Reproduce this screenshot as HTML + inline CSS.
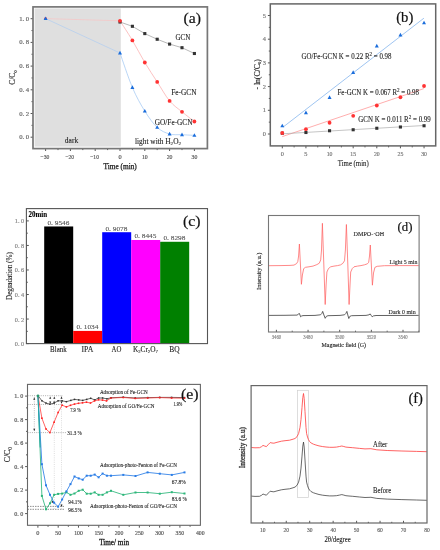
<!DOCTYPE html><html><head><meta charset="utf-8"><style>html,body{margin:0;padding:0;background:#fff;}svg{display:block;filter:blur(0.2px);}text{font-family:"Liberation Serif",serif;}</style></head><body>
<svg width="440" height="550" viewBox="0 0 440 550">
<rect width="440" height="550" fill="#fff"/>
<rect x="34.6" y="8.4" width="86.2" height="138.2" fill="#dfdfdf" stroke="none" stroke-width="1" />
<line x1="45.6" y1="148.6" x2="45.6" y2="151" stroke="#555" stroke-width="1" />
<line x1="58" y1="148.6" x2="58" y2="150.1" stroke="#555" stroke-width="1" />
<line x1="70.4" y1="148.6" x2="70.4" y2="151" stroke="#555" stroke-width="1" />
<line x1="82.8" y1="148.6" x2="82.8" y2="150.1" stroke="#555" stroke-width="1" />
<line x1="95.2" y1="148.6" x2="95.2" y2="151" stroke="#555" stroke-width="1" />
<line x1="107.6" y1="148.6" x2="107.6" y2="150.1" stroke="#555" stroke-width="1" />
<line x1="120" y1="148.6" x2="120" y2="151" stroke="#555" stroke-width="1" />
<line x1="132.4" y1="148.6" x2="132.4" y2="150.1" stroke="#555" stroke-width="1" />
<line x1="144.8" y1="148.6" x2="144.8" y2="151" stroke="#555" stroke-width="1" />
<line x1="157.2" y1="148.6" x2="157.2" y2="150.1" stroke="#555" stroke-width="1" />
<line x1="169.6" y1="148.6" x2="169.6" y2="151" stroke="#555" stroke-width="1" />
<line x1="182" y1="148.6" x2="182" y2="150.1" stroke="#555" stroke-width="1" />
<line x1="194.4" y1="148.6" x2="194.4" y2="151" stroke="#555" stroke-width="1" />
<line x1="33" y1="137.2" x2="30.6" y2="137.2" stroke="#555" stroke-width="1" />
<line x1="33" y1="125.35" x2="31.5" y2="125.35" stroke="#555" stroke-width="1" />
<line x1="33" y1="113.5" x2="30.6" y2="113.5" stroke="#555" stroke-width="1" />
<line x1="33" y1="101.65" x2="31.5" y2="101.65" stroke="#555" stroke-width="1" />
<line x1="33" y1="89.8" x2="30.6" y2="89.8" stroke="#555" stroke-width="1" />
<line x1="33" y1="77.95" x2="31.5" y2="77.95" stroke="#555" stroke-width="1" />
<line x1="33" y1="66.1" x2="30.6" y2="66.1" stroke="#555" stroke-width="1" />
<line x1="33" y1="54.25" x2="31.5" y2="54.25" stroke="#555" stroke-width="1" />
<line x1="33" y1="42.4" x2="30.6" y2="42.4" stroke="#555" stroke-width="1" />
<line x1="33" y1="30.55" x2="31.5" y2="30.55" stroke="#555" stroke-width="1" />
<line x1="33" y1="18.7" x2="30.6" y2="18.7" stroke="#555" stroke-width="1" />
<text x="45" y="158.7" font-size="6.3" fill="#555" text-anchor="middle" textLength="8.8" lengthAdjust="spacingAndGlyphs" stroke="#555" stroke-width="0.18">&#8722;30</text>
<text x="69.8" y="158.7" font-size="6.3" fill="#555" text-anchor="middle" textLength="8.8" lengthAdjust="spacingAndGlyphs" stroke="#555" stroke-width="0.18">&#8722;20</text>
<text x="94.6" y="158.7" font-size="6.3" fill="#555" text-anchor="middle" textLength="8.8" lengthAdjust="spacingAndGlyphs" stroke="#555" stroke-width="0.18">&#8722;10</text>
<text x="120" y="158.7" font-size="6.3" fill="#555" text-anchor="middle" stroke="#555" stroke-width="0.18">0</text>
<text x="144.8" y="158.7" font-size="6.3" fill="#555" text-anchor="middle" textLength="5.8" lengthAdjust="spacingAndGlyphs" stroke="#555" stroke-width="0.18">10</text>
<text x="169.6" y="158.7" font-size="6.3" fill="#555" text-anchor="middle" textLength="5.8" lengthAdjust="spacingAndGlyphs" stroke="#555" stroke-width="0.18">20</text>
<text x="194.4" y="158.7" font-size="6.3" fill="#555" text-anchor="middle" textLength="5.8" lengthAdjust="spacingAndGlyphs" stroke="#555" stroke-width="0.18">30</text>
<text x="29.2" y="139.2" font-size="6.6" fill="#666" text-anchor="end" textLength="10" lengthAdjust="spacingAndGlyphs" stroke="#666" stroke-width="0.18">0. 0</text>
<text x="29.2" y="115.5" font-size="6.6" fill="#666" text-anchor="end" textLength="10" lengthAdjust="spacingAndGlyphs" stroke="#666" stroke-width="0.18">0. 2</text>
<text x="29.2" y="91.8" font-size="6.6" fill="#666" text-anchor="end" textLength="10" lengthAdjust="spacingAndGlyphs" stroke="#666" stroke-width="0.18">0. 4</text>
<text x="29.2" y="68.1" font-size="6.6" fill="#666" text-anchor="end" textLength="10" lengthAdjust="spacingAndGlyphs" stroke="#666" stroke-width="0.18">0. 6</text>
<text x="29.2" y="44.4" font-size="6.6" fill="#666" text-anchor="end" textLength="10" lengthAdjust="spacingAndGlyphs" stroke="#666" stroke-width="0.18">0. 8</text>
<text x="29.2" y="20.7" font-size="6.6" fill="#666" text-anchor="end" textLength="10" lengthAdjust="spacingAndGlyphs" stroke="#666" stroke-width="0.18">1. 0</text>
<rect x="33" y="6.9" width="174.4" height="141.7" fill="none" stroke="#777" stroke-width="1.7" />
<polyline points="120,22 132.4,26.3 144.8,33.6 157.2,39.25 169.6,44.1 182,47.7 194.4,53.5" fill="none" stroke="#999" stroke-width="0.7" stroke-linejoin="round" />
<polyline points="45.6,18.6 120,20.8" fill="none" stroke="#f8c4c4" stroke-width="0.7" stroke-linejoin="round" />
<path d="M120,20.8 C122.07,24.07 128.27,33.45 132.4,40.4 C136.53,47.35 140.67,55.58 144.8,62.5 C148.93,69.42 153.07,75.5 157.2,81.9 C161.33,88.3 165.47,95.92 169.6,100.9 C173.73,105.88 177.87,108.37 182,111.8 C186.13,115.23 192.33,119.88 194.4,121.5" fill="none" stroke="#faa8a8" stroke-width="0.7" />
<polyline points="45.6,18.6 120,53" fill="none" stroke="#b0cdf0" stroke-width="0.7" stroke-linejoin="round" />
<path d="M120,53 C122.07,58.75 128.27,77.82 132.4,87.5 C136.53,97.18 140.67,104.45 144.8,111.1 C148.93,117.75 153.07,123.58 157.2,127.4 C161.33,131.22 165.47,132.78 169.6,134 C173.73,135.22 177.87,134.47 182,134.7 C186.13,134.93 192.33,135.28 194.4,135.4" fill="none" stroke="#9cc4f2" stroke-width="0.7" />
<rect x="118.45" y="20.45" width="3.1" height="3.1" fill="#333"/>
<rect x="130.85" y="24.75" width="3.1" height="3.1" fill="#333"/>
<rect x="143.25" y="32.05" width="3.1" height="3.1" fill="#333"/>
<rect x="155.65" y="37.7" width="3.1" height="3.1" fill="#333"/>
<rect x="168.05" y="42.55" width="3.1" height="3.1" fill="#333"/>
<rect x="180.45" y="46.15" width="3.1" height="3.1" fill="#333"/>
<rect x="192.85" y="51.95" width="3.1" height="3.1" fill="#333"/>
<circle cx="45.6" cy="18.6" r="1.4" fill="#f33"/>
<circle cx="120" cy="20.8" r="1.9" fill="#f33"/>
<circle cx="132.4" cy="40.4" r="1.9" fill="#f33"/>
<circle cx="144.8" cy="62.5" r="1.9" fill="#f33"/>
<circle cx="157.2" cy="81.9" r="1.9" fill="#f33"/>
<circle cx="169.6" cy="100.9" r="1.9" fill="#f33"/>
<circle cx="182" cy="111.8" r="1.9" fill="#f33"/>
<circle cx="194.4" cy="121.5" r="1.9" fill="#f33"/>
<path d="M45.6,16.44 L47.6,20.04 L43.6,20.04Z" fill="#1a6ddc"/>
<path d="M120,50.84 L122,54.44 L118,54.44Z" fill="#1a6ddc"/>
<path d="M132.4,85.34 L134.4,88.94 L130.4,88.94Z" fill="#1a6ddc"/>
<path d="M144.8,108.94 L146.8,112.54 L142.8,112.54Z" fill="#1a6ddc"/>
<path d="M157.2,125.24 L159.2,128.84 L155.2,128.84Z" fill="#1a6ddc"/>
<path d="M169.6,131.84 L171.6,135.44 L167.6,135.44Z" fill="#1a6ddc"/>
<path d="M182,132.54 L184,136.14 L180,136.14Z" fill="#1a6ddc"/>
<path d="M194.4,133.24 L196.4,136.84 L192.4,136.84Z" fill="#1a6ddc"/>
<text x="183.4" y="23" font-size="15.4" fill="#111" textLength="17.5" lengthAdjust="spacingAndGlyphs" stroke="#111" stroke-width="0.2">(a)</text>
<text x="175.5" y="40.3" font-size="7.3" fill="#222" textLength="14.8" lengthAdjust="spacingAndGlyphs"  stroke="#222" stroke-width="0.1">GCN</text>
<text x="171.3" y="94.8" font-size="7.3" fill="#222" textLength="25.2" lengthAdjust="spacingAndGlyphs"  stroke="#222" stroke-width="0.1">Fe-GCN</text>
<text x="154.8" y="124.9" font-size="7.3" fill="#222" textLength="37.7" lengthAdjust="spacingAndGlyphs"  stroke="#222" stroke-width="0.1">GO/Fe-GCN</text>
<text x="64.8" y="143" font-size="7.3" fill="#222" textLength="13.4" lengthAdjust="spacingAndGlyphs"  stroke="#222" stroke-width="0.1">dark</text>
<text x="135" y="143.8" font-size="7.3" fill="#222" textLength="46" lengthAdjust="spacingAndGlyphs"  stroke="#222" stroke-width="0.1">light with H<tspan font-size="5" dy="1.5">2</tspan><tspan dy="-1.5">O<tspan font-size="5" dy="1.5">2</tspan><tspan dy="-1.5"></tspan></tspan></text>
<text x="103.6" y="169.2" font-size="7.3" fill="#1a1a1a" textLength="33.2" lengthAdjust="spacingAndGlyphs" stroke="#1a1a1a" stroke-width="0.25">Time (min)</text>
<text x="15.4" y="84.8" font-size="7.6" fill="#222" textLength="14.5" lengthAdjust="spacingAndGlyphs" transform="rotate(-90 15.4 84.8)" stroke="#222" stroke-width="0.15">C/C<tspan font-size="5" dy="1.8">0</tspan><tspan dy="-1.8"></tspan></text>
<line x1="282.3" y1="145.9" x2="282.3" y2="148.3" stroke="#555" stroke-width="1" />
<line x1="294.11" y1="145.9" x2="294.11" y2="147.4" stroke="#555" stroke-width="1" />
<line x1="305.93" y1="145.9" x2="305.93" y2="148.3" stroke="#555" stroke-width="1" />
<line x1="317.74" y1="145.9" x2="317.74" y2="147.4" stroke="#555" stroke-width="1" />
<line x1="329.55" y1="145.9" x2="329.55" y2="148.3" stroke="#555" stroke-width="1" />
<line x1="341.36" y1="145.9" x2="341.36" y2="147.4" stroke="#555" stroke-width="1" />
<line x1="353.18" y1="145.9" x2="353.18" y2="148.3" stroke="#555" stroke-width="1" />
<line x1="364.99" y1="145.9" x2="364.99" y2="147.4" stroke="#555" stroke-width="1" />
<line x1="376.8" y1="145.9" x2="376.8" y2="148.3" stroke="#555" stroke-width="1" />
<line x1="388.61" y1="145.9" x2="388.61" y2="147.4" stroke="#555" stroke-width="1" />
<line x1="400.43" y1="145.9" x2="400.43" y2="148.3" stroke="#555" stroke-width="1" />
<line x1="412.24" y1="145.9" x2="412.24" y2="147.4" stroke="#555" stroke-width="1" />
<line x1="424.05" y1="145.9" x2="424.05" y2="148.3" stroke="#555" stroke-width="1" />
<line x1="270.3" y1="134" x2="267.9" y2="134" stroke="#555" stroke-width="1" />
<line x1="270.3" y1="122.15" x2="268.8" y2="122.15" stroke="#555" stroke-width="1" />
<line x1="270.3" y1="110.3" x2="267.9" y2="110.3" stroke="#555" stroke-width="1" />
<line x1="270.3" y1="98.45" x2="268.8" y2="98.45" stroke="#555" stroke-width="1" />
<line x1="270.3" y1="86.6" x2="267.9" y2="86.6" stroke="#555" stroke-width="1" />
<line x1="270.3" y1="74.75" x2="268.8" y2="74.75" stroke="#555" stroke-width="1" />
<line x1="270.3" y1="62.9" x2="267.9" y2="62.9" stroke="#555" stroke-width="1" />
<line x1="270.3" y1="51.05" x2="268.8" y2="51.05" stroke="#555" stroke-width="1" />
<line x1="270.3" y1="39.2" x2="267.9" y2="39.2" stroke="#555" stroke-width="1" />
<line x1="270.3" y1="27.35" x2="268.8" y2="27.35" stroke="#555" stroke-width="1" />
<line x1="270.3" y1="15.5" x2="267.9" y2="15.5" stroke="#555" stroke-width="1" />
<text x="282.3" y="156" font-size="6.3" fill="#777" text-anchor="middle" stroke="#777" stroke-width="0.18">0</text>
<text x="305.93" y="156" font-size="6.3" fill="#777" text-anchor="middle" stroke="#777" stroke-width="0.18">5</text>
<text x="329.55" y="156" font-size="6.3" fill="#777" text-anchor="middle" textLength="5.8" lengthAdjust="spacingAndGlyphs" stroke="#777" stroke-width="0.18">10</text>
<text x="353.18" y="156" font-size="6.3" fill="#777" text-anchor="middle" textLength="5.8" lengthAdjust="spacingAndGlyphs" stroke="#777" stroke-width="0.18">15</text>
<text x="376.8" y="156" font-size="6.3" fill="#777" text-anchor="middle" textLength="5.8" lengthAdjust="spacingAndGlyphs" stroke="#777" stroke-width="0.18">20</text>
<text x="400.43" y="156" font-size="6.3" fill="#777" text-anchor="middle" textLength="5.8" lengthAdjust="spacingAndGlyphs" stroke="#777" stroke-width="0.18">25</text>
<text x="424.05" y="156" font-size="6.3" fill="#777" text-anchor="middle" textLength="5.8" lengthAdjust="spacingAndGlyphs" stroke="#777" stroke-width="0.18">30</text>
<text x="265.8" y="136" font-size="6.3" fill="#777" text-anchor="end" stroke="#777" stroke-width="0.18">0</text>
<text x="265.8" y="112.3" font-size="6.3" fill="#777" text-anchor="end" stroke="#777" stroke-width="0.18">1</text>
<text x="265.8" y="88.6" font-size="6.3" fill="#777" text-anchor="end" stroke="#777" stroke-width="0.18">2</text>
<text x="265.8" y="64.9" font-size="6.3" fill="#777" text-anchor="end" stroke="#777" stroke-width="0.18">3</text>
<text x="265.8" y="41.2" font-size="6.3" fill="#777" text-anchor="end" stroke="#777" stroke-width="0.18">4</text>
<text x="265.8" y="17.5" font-size="6.3" fill="#777" text-anchor="end" stroke="#777" stroke-width="0.18">5</text>
<rect x="270.3" y="3.9" width="165.4" height="142" fill="none" stroke="#666" stroke-width="1.5" />
<line x1="283.2" y1="127" x2="423.9" y2="18.2" stroke="#86b6ee" stroke-width="0.8" />
<line x1="282.3" y1="136.6" x2="423.9" y2="88.6" stroke="#f99" stroke-width="0.8" />
<line x1="282.3" y1="133.8" x2="423.9" y2="125.5" stroke="#aaa" stroke-width="0.7" />
<rect x="280.75" y="131.7" width="3.1" height="3.1" fill="#333"/>
<rect x="304.38" y="130.95" width="3.1" height="3.1" fill="#333"/>
<rect x="328" y="129.2" width="3.1" height="3.1" fill="#333"/>
<rect x="351.62" y="128.2" width="3.1" height="3.1" fill="#333"/>
<rect x="375.25" y="126.7" width="3.1" height="3.1" fill="#333"/>
<rect x="398.88" y="125.45" width="3.1" height="3.1" fill="#333"/>
<rect x="422.5" y="124.2" width="3.1" height="3.1" fill="#333"/>
<circle cx="282.3" cy="133" r="1.9" fill="#f33"/>
<circle cx="305.93" cy="129.2" r="1.9" fill="#f33"/>
<circle cx="329.55" cy="122.75" r="1.9" fill="#f33"/>
<circle cx="353.18" cy="115.8" r="1.9" fill="#f33"/>
<circle cx="376.8" cy="105.5" r="1.9" fill="#f33"/>
<circle cx="400.43" cy="97.25" r="1.9" fill="#f33"/>
<circle cx="424.05" cy="86" r="1.9" fill="#f33"/>
<path d="M282.3,123.64 L284.3,127.24 L280.3,127.24Z" fill="#1a6ddc"/>
<path d="M305.93,110.59 L307.93,114.19 L303.93,114.19Z" fill="#1a6ddc"/>
<path d="M329.55,95.34 L331.55,98.94 L327.55,98.94Z" fill="#1a6ddc"/>
<path d="M353.18,70.34 L355.18,73.94 L351.18,73.94Z" fill="#1a6ddc"/>
<path d="M376.8,43.84 L378.8,47.44 L374.8,47.44Z" fill="#1a6ddc"/>
<path d="M400.43,32.84 L402.43,36.44 L398.43,36.44Z" fill="#1a6ddc"/>
<path d="M424.05,20.74 L426.05,24.34 L422.05,24.34Z" fill="#1a6ddc"/>
<text x="396.2" y="21.7" font-size="15.3" fill="#111" textLength="17.1" lengthAdjust="spacingAndGlyphs" stroke="#111" stroke-width="0.2">(b)</text>
<text x="301.5" y="59.4" font-size="7.3" fill="#222" textLength="90" lengthAdjust="spacingAndGlyphs"  stroke="#222" stroke-width="0.1">GO/Fe-GCN K = 0.22 R<tspan font-size="5.4" dy="-3">2</tspan><tspan dy="3"> = 0.98</tspan></text>
<text x="337.5" y="95.2" font-size="7.3" fill="#222" textLength="81.5" lengthAdjust="spacingAndGlyphs"  stroke="#222" stroke-width="0.1">Fe-GCN K = 0.067 R<tspan font-size="5.4" dy="-3">2</tspan><tspan dy="3"> = 0.98</tspan></text>
<text x="358.3" y="122.1" font-size="7.3" fill="#222" textLength="72.5" lengthAdjust="spacingAndGlyphs"  stroke="#222" stroke-width="0.1">GCN K = 0.011 R<tspan font-size="5.4" dy="-3">2</tspan><tspan dy="3"> = 0.99</tspan></text>
<text x="337.8" y="165.7" font-size="7.2" fill="#222" textLength="30.9" lengthAdjust="spacingAndGlyphs" stroke="#222" stroke-width="0.1">Time (min)</text>
<text x="259.8" y="89.6" font-size="7.6" fill="#222" textLength="30.5" lengthAdjust="spacingAndGlyphs" transform="rotate(-90 259.8 89.6)" stroke="#222" stroke-width="0.15">- ln(C/C<tspan font-size="5" dy="1.5">0</tspan><tspan dy="-1.5">)</tspan></text>
<rect x="44.2" y="226.47" width="29" height="117.13" fill="#000" stroke="none" stroke-width="1" />
<text x="58.4" y="224.97" font-size="6.8" fill="#555" text-anchor="middle" textLength="22" lengthAdjust="spacingAndGlyphs"  stroke="#555" stroke-width="0.1">0. 9546</text>
<text x="58.4" y="351.9" font-size="7.4" fill="#222" text-anchor="middle" textLength="16.6" lengthAdjust="spacingAndGlyphs"  stroke="#222" stroke-width="0.1">Blank</text>
<rect x="73.2" y="330.91" width="29" height="12.69" fill="#ff0000" stroke="none" stroke-width="1" />
<text x="87.4" y="329.41" font-size="6.8" fill="#555" text-anchor="middle" textLength="22" lengthAdjust="spacingAndGlyphs"  stroke="#555" stroke-width="0.1">0. 1034</text>
<text x="87.4" y="351.9" font-size="7.4" fill="#222" text-anchor="middle" textLength="11.7" lengthAdjust="spacingAndGlyphs"  stroke="#222" stroke-width="0.1">IPA</text>
<rect x="102.2" y="232.21" width="29" height="111.39" fill="#0000ff" stroke="none" stroke-width="1" />
<text x="116.4" y="230.71" font-size="6.8" fill="#555" text-anchor="middle" textLength="22" lengthAdjust="spacingAndGlyphs"  stroke="#555" stroke-width="0.1">0. 9078</text>
<text x="116.4" y="351.9" font-size="7.4" fill="#222" text-anchor="middle" textLength="9.8" lengthAdjust="spacingAndGlyphs"  stroke="#222" stroke-width="0.1">AO</text>
<rect x="131.2" y="239.98" width="29" height="103.62" fill="#ff00ff" stroke="none" stroke-width="1" />
<text x="145.4" y="238.48" font-size="6.8" fill="#555" text-anchor="middle" textLength="22" lengthAdjust="spacingAndGlyphs"  stroke="#555" stroke-width="0.1">0. 8445</text>
<text x="145.4" y="351.9" font-size="7.4" fill="#222" text-anchor="middle" textLength="25" lengthAdjust="spacingAndGlyphs"  stroke="#222" stroke-width="0.1">K<tspan font-size="4.8" dy="1.5">2</tspan><tspan dy="-1.5">Cr<tspan font-size="4.8" dy="1.5">2</tspan><tspan dy="-1.5">O<tspan font-size="4.8" dy="1.5">7</tspan><tspan dy="-1.5"></tspan></tspan></tspan></text>
<rect x="160.2" y="241.78" width="29" height="101.82" fill="#008000" stroke="none" stroke-width="1" />
<text x="174.4" y="240.28" font-size="6.8" fill="#555" text-anchor="middle" textLength="22" lengthAdjust="spacingAndGlyphs"  stroke="#555" stroke-width="0.1">0. 8298</text>
<text x="174.4" y="351.9" font-size="7.4" fill="#222" text-anchor="middle" textLength="10.4" lengthAdjust="spacingAndGlyphs"  stroke="#222" stroke-width="0.1">BQ</text>
<line x1="26.4" y1="343.6" x2="28.8" y2="343.6" stroke="#555" stroke-width="1" />
<line x1="26.4" y1="331.33" x2="27.8" y2="331.33" stroke="#555" stroke-width="1" />
<line x1="26.4" y1="319.06" x2="28.8" y2="319.06" stroke="#555" stroke-width="1" />
<line x1="26.4" y1="306.79" x2="27.8" y2="306.79" stroke="#555" stroke-width="1" />
<line x1="26.4" y1="294.52" x2="28.8" y2="294.52" stroke="#555" stroke-width="1" />
<line x1="26.4" y1="282.25" x2="27.8" y2="282.25" stroke="#555" stroke-width="1" />
<line x1="26.4" y1="269.98" x2="28.8" y2="269.98" stroke="#555" stroke-width="1" />
<line x1="26.4" y1="257.71" x2="27.8" y2="257.71" stroke="#555" stroke-width="1" />
<line x1="26.4" y1="245.44" x2="28.8" y2="245.44" stroke="#555" stroke-width="1" />
<line x1="26.4" y1="233.17" x2="27.8" y2="233.17" stroke="#555" stroke-width="1" />
<line x1="26.4" y1="220.9" x2="28.8" y2="220.9" stroke="#555" stroke-width="1" />
<text x="24.2" y="346.1" font-size="5.8" fill="#888" text-anchor="end" textLength="9.4" lengthAdjust="spacingAndGlyphs" stroke="#888" stroke-width="0.18">0. 0</text>
<text x="24.2" y="321.56" font-size="5.8" fill="#888" text-anchor="end" textLength="9.4" lengthAdjust="spacingAndGlyphs" stroke="#888" stroke-width="0.18">0. 2</text>
<text x="24.2" y="297.02" font-size="5.8" fill="#888" text-anchor="end" textLength="9.4" lengthAdjust="spacingAndGlyphs" stroke="#888" stroke-width="0.18">0. 4</text>
<text x="24.2" y="272.48" font-size="5.8" fill="#888" text-anchor="end" textLength="9.4" lengthAdjust="spacingAndGlyphs" stroke="#888" stroke-width="0.18">0. 6</text>
<text x="24.2" y="247.94" font-size="5.8" fill="#888" text-anchor="end" textLength="9.4" lengthAdjust="spacingAndGlyphs" stroke="#888" stroke-width="0.18">0. 8</text>
<text x="24.2" y="223.4" font-size="5.8" fill="#888" text-anchor="end" textLength="9.4" lengthAdjust="spacingAndGlyphs" stroke="#888" stroke-width="0.18">1. 0</text>
<rect x="26.4" y="208.6" width="181.1" height="135" fill="none" stroke="#555" stroke-width="1.1" />
<text x="28.6" y="217.3" font-size="7.5" fill="#000" textLength="18.6" lengthAdjust="spacingAndGlyphs" font-weight="bold"  stroke="#000" stroke-width="0.1">20min</text>
<text x="183" y="226" font-size="15.1" fill="#111" textLength="17.5" lengthAdjust="spacingAndGlyphs" stroke="#111" stroke-width="0.2">(c)</text>
<text x="12.3" y="300" font-size="7.2" fill="#222" textLength="47.8" lengthAdjust="spacingAndGlyphs" transform="rotate(-90 12.3 300)"  stroke="#222" stroke-width="0.1">Degradation (%)</text>
<line x1="276.4" y1="332" x2="276.4" y2="329.8" stroke="#555" stroke-width="1" />
<line x1="292.22" y1="332" x2="292.22" y2="330.7" stroke="#555" stroke-width="1" />
<line x1="308.05" y1="332" x2="308.05" y2="329.8" stroke="#555" stroke-width="1" />
<line x1="323.88" y1="332" x2="323.88" y2="330.7" stroke="#555" stroke-width="1" />
<line x1="339.7" y1="332" x2="339.7" y2="329.8" stroke="#555" stroke-width="1" />
<line x1="355.52" y1="332" x2="355.52" y2="330.7" stroke="#555" stroke-width="1" />
<line x1="371.35" y1="332" x2="371.35" y2="329.8" stroke="#555" stroke-width="1" />
<line x1="387.17" y1="332" x2="387.17" y2="330.7" stroke="#555" stroke-width="1" />
<line x1="403" y1="332" x2="403" y2="329.8" stroke="#555" stroke-width="1" />
<line x1="418.82" y1="332" x2="418.82" y2="330.7" stroke="#555" stroke-width="1" />
<text x="276.4" y="339.2" font-size="5.6" fill="#888" text-anchor="middle" textLength="9.4" lengthAdjust="spacingAndGlyphs" stroke="#888" stroke-width="0.18">3460</text>
<text x="308.05" y="339.2" font-size="5.6" fill="#888" text-anchor="middle" textLength="9.4" lengthAdjust="spacingAndGlyphs" stroke="#888" stroke-width="0.18">3480</text>
<text x="339.7" y="339.2" font-size="5.6" fill="#888" text-anchor="middle" textLength="9.4" lengthAdjust="spacingAndGlyphs" stroke="#888" stroke-width="0.18">3500</text>
<text x="371.35" y="339.2" font-size="5.6" fill="#888" text-anchor="middle" textLength="9.4" lengthAdjust="spacingAndGlyphs" stroke="#888" stroke-width="0.18">3520</text>
<text x="403" y="339.2" font-size="5.6" fill="#888" text-anchor="middle" textLength="9.4" lengthAdjust="spacingAndGlyphs" stroke="#888" stroke-width="0.18">3540</text>
<polyline points="268.8,265.7 280,265.6 290,265.4 294,265.1 296.6,263.6 297.8,261.5 298.6,256 299.4,244 300.3,262 301.4,284.3 302.4,275 303.7,268.6 305.5,267.3 309,266.8 313,266.1 316.9,264.6 319.3,263.2 320.7,259.9 321.5,250 322.4,223.3 323.8,264 325.2,304.5 326.1,285 326.9,272 328.5,268.5 330.7,266.8 334,266.1 337.6,265.6 340.5,264.9 342.8,263.4 344.5,260.8 345.4,250 346.4,224.5 347.8,264 349.1,304.5 350,285 350.7,272 352.3,268.5 354,266.8 357.5,266.1 361,265.6 364.5,264.8 367.4,263.8 368.7,262.3 369.5,256 370.3,245 371.3,264 372.4,285.2 373.5,273 374.9,267.4 377.2,266.3 384.5,265.7 399.3,265.6 418.8,265.6" fill="none" stroke="#ff6262" stroke-width="0.75" stroke-linejoin="round" />
<polyline points="268.8,315.4 285,315.3 297,315.1 298.4,314.3 299.2,313.3 300,315 300.6,316.8 301.6,316 303,315.6 315,315.4 320.5,314.8 321.8,313.5 322.7,311.4 323.9,315 325.2,318.3 326.4,316.3 328,315.7 340,315.4 344.5,314.8 345.8,313.5 346.9,311.4 347.8,315 348.8,318.5 349.8,316.4 351.5,315.7 366,315.4 369,314.8 370.2,313.9 371.2,315.4 372.2,316.8 373.4,315.9 376,315.5 418.8,315.4" fill="none" stroke="#3a3a3a" stroke-width="0.8" stroke-linejoin="round" />
<rect x="268.5" y="215.5" width="150.6" height="116.5" fill="none" stroke="#777" stroke-width="1.1" />
<text x="397.6" y="231.1" font-size="13.1" fill="#111" textLength="14.9" lengthAdjust="spacingAndGlyphs" stroke="#111" stroke-width="0.2">(d)</text>
<text x="353.6" y="236.2" font-size="6.2" fill="#222" textLength="30.6" lengthAdjust="spacingAndGlyphs"  stroke="#222" stroke-width="0.1">DMPO-&#183;OH</text>
<text x="389.6" y="264" font-size="6.3" fill="#222" textLength="27.8" lengthAdjust="spacingAndGlyphs"  stroke="#222" stroke-width="0.1">Light 5 min</text>
<text x="388.6" y="313.8" font-size="6.3" fill="#222" textLength="27.1" lengthAdjust="spacingAndGlyphs"  stroke="#222" stroke-width="0.1">Dark 0 min</text>
<text x="321.5" y="347.4" font-size="6.7" fill="#1a1a1a" textLength="44.5" lengthAdjust="spacingAndGlyphs" stroke="#1a1a1a" stroke-width="0.12">Magnetic field (G)</text>
<text x="261.1" y="289.9" font-size="6.3" fill="#222" textLength="37.2" lengthAdjust="spacingAndGlyphs" transform="rotate(-90 261.1 289.9)" stroke="#222" stroke-width="0.15">Intensity (a.u.)</text>
<line x1="37.9" y1="525.3" x2="37.9" y2="527.7" stroke="#555" stroke-width="1" />
<line x1="48.05" y1="525.3" x2="48.05" y2="526.8" stroke="#555" stroke-width="1" />
<line x1="58.19" y1="525.3" x2="58.19" y2="527.7" stroke="#555" stroke-width="1" />
<line x1="68.33" y1="525.3" x2="68.33" y2="526.8" stroke="#555" stroke-width="1" />
<line x1="78.48" y1="525.3" x2="78.48" y2="527.7" stroke="#555" stroke-width="1" />
<line x1="88.62" y1="525.3" x2="88.62" y2="526.8" stroke="#555" stroke-width="1" />
<line x1="98.77" y1="525.3" x2="98.77" y2="527.7" stroke="#555" stroke-width="1" />
<line x1="108.91" y1="525.3" x2="108.91" y2="526.8" stroke="#555" stroke-width="1" />
<line x1="119.06" y1="525.3" x2="119.06" y2="527.7" stroke="#555" stroke-width="1" />
<line x1="129.2" y1="525.3" x2="129.2" y2="526.8" stroke="#555" stroke-width="1" />
<line x1="139.35" y1="525.3" x2="139.35" y2="527.7" stroke="#555" stroke-width="1" />
<line x1="149.5" y1="525.3" x2="149.5" y2="526.8" stroke="#555" stroke-width="1" />
<line x1="159.64" y1="525.3" x2="159.64" y2="527.7" stroke="#555" stroke-width="1" />
<line x1="169.78" y1="525.3" x2="169.78" y2="526.8" stroke="#555" stroke-width="1" />
<line x1="179.93" y1="525.3" x2="179.93" y2="527.7" stroke="#555" stroke-width="1" />
<line x1="190.08" y1="525.3" x2="190.08" y2="526.8" stroke="#555" stroke-width="1" />
<line x1="27.5" y1="513.6" x2="25.1" y2="513.6" stroke="#555" stroke-width="1" />
<line x1="27.5" y1="501.85" x2="26" y2="501.85" stroke="#555" stroke-width="1" />
<line x1="27.5" y1="490.1" x2="25.1" y2="490.1" stroke="#555" stroke-width="1" />
<line x1="27.5" y1="478.35" x2="26" y2="478.35" stroke="#555" stroke-width="1" />
<line x1="27.5" y1="466.6" x2="25.1" y2="466.6" stroke="#555" stroke-width="1" />
<line x1="27.5" y1="454.85" x2="26" y2="454.85" stroke="#555" stroke-width="1" />
<line x1="27.5" y1="443.1" x2="25.1" y2="443.1" stroke="#555" stroke-width="1" />
<line x1="27.5" y1="431.35" x2="26" y2="431.35" stroke="#555" stroke-width="1" />
<line x1="27.5" y1="419.6" x2="25.1" y2="419.6" stroke="#555" stroke-width="1" />
<line x1="27.5" y1="407.85" x2="26" y2="407.85" stroke="#555" stroke-width="1" />
<line x1="27.5" y1="396.1" x2="25.1" y2="396.1" stroke="#555" stroke-width="1" />
<text x="37.9" y="535.4" font-size="6.3" fill="#555" text-anchor="middle" stroke="#555" stroke-width="0.18">0</text>
<text x="58.19" y="535.4" font-size="6.3" fill="#555" text-anchor="middle" textLength="5.8" lengthAdjust="spacingAndGlyphs" stroke="#555" stroke-width="0.18">50</text>
<text x="78.48" y="535.4" font-size="6.3" fill="#555" text-anchor="middle" textLength="8.69" lengthAdjust="spacingAndGlyphs" stroke="#555" stroke-width="0.18">100</text>
<text x="98.77" y="535.4" font-size="6.3" fill="#555" text-anchor="middle" textLength="8.69" lengthAdjust="spacingAndGlyphs" stroke="#555" stroke-width="0.18">150</text>
<text x="119.06" y="535.4" font-size="6.3" fill="#555" text-anchor="middle" textLength="8.69" lengthAdjust="spacingAndGlyphs" stroke="#555" stroke-width="0.18">200</text>
<text x="139.35" y="535.4" font-size="6.3" fill="#555" text-anchor="middle" textLength="8.69" lengthAdjust="spacingAndGlyphs" stroke="#555" stroke-width="0.18">250</text>
<text x="159.64" y="535.4" font-size="6.3" fill="#555" text-anchor="middle" textLength="8.69" lengthAdjust="spacingAndGlyphs" stroke="#555" stroke-width="0.18">300</text>
<text x="179.93" y="535.4" font-size="6.3" fill="#555" text-anchor="middle" textLength="8.69" lengthAdjust="spacingAndGlyphs" stroke="#555" stroke-width="0.18">350</text>
<text x="200.22" y="535.4" font-size="6.3" fill="#555" text-anchor="middle" textLength="8.69" lengthAdjust="spacingAndGlyphs" stroke="#555" stroke-width="0.18">400</text>
<text x="23.4" y="515.7" font-size="6.3" fill="#555" text-anchor="end" textLength="9.2" lengthAdjust="spacingAndGlyphs" stroke="#555" stroke-width="0.18">0. 0</text>
<text x="23.4" y="492.2" font-size="6.3" fill="#555" text-anchor="end" textLength="9.2" lengthAdjust="spacingAndGlyphs" stroke="#555" stroke-width="0.18">0. 2</text>
<text x="23.4" y="468.7" font-size="6.3" fill="#555" text-anchor="end" textLength="9.2" lengthAdjust="spacingAndGlyphs" stroke="#555" stroke-width="0.18">0. 4</text>
<text x="23.4" y="445.2" font-size="6.3" fill="#555" text-anchor="end" textLength="9.2" lengthAdjust="spacingAndGlyphs" stroke="#555" stroke-width="0.18">0. 6</text>
<text x="23.4" y="421.7" font-size="6.3" fill="#555" text-anchor="end" textLength="9.2" lengthAdjust="spacingAndGlyphs" stroke="#555" stroke-width="0.18">0. 8</text>
<text x="23.4" y="398.2" font-size="6.3" fill="#555" text-anchor="end" textLength="9.2" lengthAdjust="spacingAndGlyphs" stroke="#555" stroke-width="0.18">1. 0</text>
<line x1="27.5" y1="395.7" x2="63" y2="395.7" stroke="#777" stroke-width="0.6" stroke-dasharray="1 1.2"/>
<line x1="27.5" y1="404.5" x2="63" y2="404.5" stroke="#777" stroke-width="0.6" stroke-dasharray="1 1.2"/>
<line x1="27.5" y1="432.6" x2="67" y2="432.6" stroke="#777" stroke-width="0.6" stroke-dasharray="1 1.2"/>
<line x1="27.5" y1="506.4" x2="65" y2="506.4" stroke="#444" stroke-width="0.6" stroke-dasharray="1.5 1"/>
<line x1="27.5" y1="509.3" x2="65" y2="509.3" stroke="#444" stroke-width="0.6" stroke-dasharray="1.5 1"/>
<line x1="34.3" y1="397" x2="34.3" y2="431" stroke="#888" stroke-width="0.55" stroke-dasharray="1 1.2"/>
<line x1="54.3" y1="398" x2="54.3" y2="510" stroke="#bbb" stroke-width="0.5" stroke-dasharray="1 1.2"/>
<line x1="61.5" y1="396" x2="61.5" y2="510" stroke="#bbb" stroke-width="0.5" stroke-dasharray="1 1.2"/>
<path d="M33.25,399.7 L34.25,397.5 L35.25,399.7Z" fill="#222"/>
<path d="M33.25,428.8 L34.25,431 L35.25,428.8Z" fill="#222"/>
<path d="M49.2,398.7 L50.2,396.5 L51.2,398.7Z" fill="#222"/>
<path d="M49.2,401.6 L50.2,403.8 L51.2,401.6Z" fill="#222"/>
<path d="M53.3,398.7 L54.3,396.5 L55.3,398.7Z" fill="#222"/>
<path d="M53.3,401.6 L54.3,403.8 L55.3,401.6Z" fill="#222"/>
<path d="M60.5,398.7 L61.5,396.5 L62.5,398.7Z" fill="#222"/>
<path d="M60.5,401.6 L61.5,403.8 L62.5,401.6Z" fill="#222"/>
<path d="M52.2,500.5 L54,503 L51.5,502.6Z" fill="#222"/>
<path d="M60.5,504.5 L62.5,504.5 L61.5,507Z" fill="#222"/>
<polyline points="38,395.7 41.9,495.9 46,509.3 50,503.3 54.1,494.8 58.1,493.9 62.1,493.6 66.4,492.3 70.5,494.8 74.5,493.5 78.7,490.8 82.7,489.7 86.7,493.7 90.7,493.7 94.7,492.4 98.6,494.8 102.6,494.8 106.9,492.4 111,490.8 123.3,494.8 135.5,492.5 147.6,492.5 159.8,493.7 171.8,492.2 184.5,493.5" fill="none" stroke="#2cb67a" stroke-width="0.85" stroke-linejoin="round" />
<polyline points="38,395.7 41.9,464.2 46,485.3 50,494.8 54.1,502.7 58.1,506.7 62.1,499.5 66.4,491.4 70.5,484.1 74.5,476.5 78.7,478.4 82.7,479.7 86.7,475.7 90.7,475.7 94.7,474.6 98.6,477.3 102.6,473.6 106.9,475.7 111,475.7 123.3,474.9 135.5,476 147.6,472.4 159.8,473.7 171.8,474.9 184.5,472.4" fill="none" stroke="#2a7de6" stroke-width="0.85" stroke-linejoin="round" />
<polyline points="38,395.7 41.9,400.8 46,403.1 49.9,404.2 54.1,403.1 58.1,400.8 62.1,400.8 66.4,401.7 70.8,400.4 74.5,399.4 78.7,399.9 82.7,400.4 86.7,399.4 90.7,398.3 94.7,399.9 98.6,398 102.6,398 106.9,398.8 111,397.8 123.3,397.2 135.3,398 147.7,397.6 159.7,397.4 171.6,397.4 184.5,397.6" fill="none" stroke="#444" stroke-width="0.8" stroke-linejoin="round" />
<polyline points="38,395.7 41.9,418.2 46,429 49.9,432.6 54.1,422.2 58.1,412.5 62.1,405.2 66.4,406.9 70.5,405.3 74.5,404.1 78.5,403.3 82.5,402.8 86.5,402.2 90.5,403 94.5,400.9 98.5,399.8 102.5,400.1 106.5,400.9 110.9,398 123.3,397.5 135.3,398.4 147.7,398 159.7,397.6 171.6,398 184.5,398.2" fill="none" stroke="#ff3030" stroke-width="0.75" stroke-linejoin="round" />
<line x1="38" y1="395.9" x2="40.2" y2="447.5" stroke="#22a6a6" stroke-width="1" />
<rect x="40.9" y="494.9" width="2" height="2" fill="#2cb67a"/>
<rect x="45" y="508.3" width="2" height="2" fill="#2cb67a"/>
<rect x="49" y="502.3" width="2" height="2" fill="#2cb67a"/>
<rect x="53.1" y="493.8" width="2" height="2" fill="#2cb67a"/>
<rect x="57.1" y="492.9" width="2" height="2" fill="#2cb67a"/>
<rect x="61.1" y="492.6" width="2" height="2" fill="#2cb67a"/>
<rect x="65.4" y="491.3" width="2" height="2" fill="#2cb67a"/>
<rect x="69.5" y="493.8" width="2" height="2" fill="#2cb67a"/>
<rect x="73.5" y="492.5" width="2" height="2" fill="#2cb67a"/>
<rect x="77.7" y="489.8" width="2" height="2" fill="#2cb67a"/>
<rect x="81.7" y="488.7" width="2" height="2" fill="#2cb67a"/>
<rect x="85.7" y="492.7" width="2" height="2" fill="#2cb67a"/>
<rect x="89.7" y="492.7" width="2" height="2" fill="#2cb67a"/>
<rect x="93.7" y="491.4" width="2" height="2" fill="#2cb67a"/>
<rect x="97.6" y="493.8" width="2" height="2" fill="#2cb67a"/>
<rect x="101.6" y="493.8" width="2" height="2" fill="#2cb67a"/>
<rect x="105.9" y="491.4" width="2" height="2" fill="#2cb67a"/>
<rect x="110" y="489.8" width="2" height="2" fill="#2cb67a"/>
<rect x="122.3" y="493.8" width="2" height="2" fill="#2cb67a"/>
<rect x="134.5" y="491.5" width="2" height="2" fill="#2cb67a"/>
<rect x="146.6" y="491.5" width="2" height="2" fill="#2cb67a"/>
<rect x="158.8" y="492.7" width="2" height="2" fill="#2cb67a"/>
<rect x="170.8" y="491.2" width="2" height="2" fill="#2cb67a"/>
<rect x="183.5" y="492.5" width="2" height="2" fill="#2cb67a"/>
<rect x="40.9" y="463.2" width="2" height="2" fill="#2a7de6"/>
<rect x="45" y="484.3" width="2" height="2" fill="#2a7de6"/>
<rect x="49" y="493.8" width="2" height="2" fill="#2a7de6"/>
<rect x="53.1" y="501.7" width="2" height="2" fill="#2a7de6"/>
<rect x="57.1" y="505.7" width="2" height="2" fill="#2a7de6"/>
<rect x="61.1" y="498.5" width="2" height="2" fill="#2a7de6"/>
<rect x="65.4" y="490.4" width="2" height="2" fill="#2a7de6"/>
<rect x="69.5" y="483.1" width="2" height="2" fill="#2a7de6"/>
<rect x="73.5" y="475.5" width="2" height="2" fill="#2a7de6"/>
<rect x="77.7" y="477.4" width="2" height="2" fill="#2a7de6"/>
<rect x="81.7" y="478.7" width="2" height="2" fill="#2a7de6"/>
<rect x="85.7" y="474.7" width="2" height="2" fill="#2a7de6"/>
<rect x="89.7" y="474.7" width="2" height="2" fill="#2a7de6"/>
<rect x="93.7" y="473.6" width="2" height="2" fill="#2a7de6"/>
<rect x="97.6" y="476.3" width="2" height="2" fill="#2a7de6"/>
<rect x="101.6" y="472.6" width="2" height="2" fill="#2a7de6"/>
<rect x="105.9" y="474.7" width="2" height="2" fill="#2a7de6"/>
<rect x="110" y="474.7" width="2" height="2" fill="#2a7de6"/>
<rect x="122.3" y="473.9" width="2" height="2" fill="#2a7de6"/>
<rect x="134.5" y="475" width="2" height="2" fill="#2a7de6"/>
<rect x="146.6" y="471.4" width="2" height="2" fill="#2a7de6"/>
<rect x="158.8" y="472.7" width="2" height="2" fill="#2a7de6"/>
<rect x="170.8" y="473.9" width="2" height="2" fill="#2a7de6"/>
<rect x="183.5" y="471.4" width="2" height="2" fill="#2a7de6"/>
<rect x="41.15" y="400.05" width="1.5" height="1.5" fill="#333"/>
<rect x="45.25" y="402.35" width="1.5" height="1.5" fill="#333"/>
<rect x="49.15" y="403.45" width="1.5" height="1.5" fill="#333"/>
<rect x="53.35" y="402.35" width="1.5" height="1.5" fill="#333"/>
<rect x="57.35" y="400.05" width="1.5" height="1.5" fill="#333"/>
<rect x="61.35" y="400.05" width="1.5" height="1.5" fill="#333"/>
<rect x="65.65" y="400.95" width="1.5" height="1.5" fill="#333"/>
<rect x="70.05" y="399.65" width="1.5" height="1.5" fill="#333"/>
<rect x="73.75" y="398.65" width="1.5" height="1.5" fill="#333"/>
<rect x="77.95" y="399.15" width="1.5" height="1.5" fill="#333"/>
<rect x="81.95" y="399.65" width="1.5" height="1.5" fill="#333"/>
<rect x="85.95" y="398.65" width="1.5" height="1.5" fill="#333"/>
<rect x="89.95" y="397.55" width="1.5" height="1.5" fill="#333"/>
<rect x="93.95" y="399.15" width="1.5" height="1.5" fill="#333"/>
<rect x="97.85" y="397.25" width="1.5" height="1.5" fill="#333"/>
<rect x="101.85" y="397.25" width="1.5" height="1.5" fill="#333"/>
<rect x="106.15" y="398.05" width="1.5" height="1.5" fill="#333"/>
<rect x="110.25" y="397.05" width="1.5" height="1.5" fill="#333"/>
<rect x="122.55" y="396.45" width="1.5" height="1.5" fill="#333"/>
<rect x="134.55" y="397.25" width="1.5" height="1.5" fill="#333"/>
<rect x="146.95" y="396.85" width="1.5" height="1.5" fill="#333"/>
<rect x="158.95" y="396.65" width="1.5" height="1.5" fill="#333"/>
<rect x="170.85" y="396.65" width="1.5" height="1.5" fill="#333"/>
<rect x="183.75" y="396.85" width="1.5" height="1.5" fill="#333"/>
<rect x="41.1" y="417.4" width="1.6" height="1.6" fill="#ff2020"/>
<rect x="45.2" y="428.2" width="1.6" height="1.6" fill="#ff2020"/>
<rect x="49.1" y="431.8" width="1.6" height="1.6" fill="#ff2020"/>
<rect x="53.3" y="421.4" width="1.6" height="1.6" fill="#ff2020"/>
<rect x="57.3" y="411.7" width="1.6" height="1.6" fill="#ff2020"/>
<rect x="61.3" y="404.4" width="1.6" height="1.6" fill="#ff2020"/>
<rect x="65.6" y="406.1" width="1.6" height="1.6" fill="#ff2020"/>
<rect x="69.7" y="404.5" width="1.6" height="1.6" fill="#ff2020"/>
<rect x="73.7" y="403.3" width="1.6" height="1.6" fill="#ff2020"/>
<rect x="77.7" y="402.5" width="1.6" height="1.6" fill="#ff2020"/>
<rect x="81.7" y="402" width="1.6" height="1.6" fill="#ff2020"/>
<rect x="85.7" y="401.4" width="1.6" height="1.6" fill="#ff2020"/>
<rect x="89.7" y="402.2" width="1.6" height="1.6" fill="#ff2020"/>
<rect x="93.7" y="400.1" width="1.6" height="1.6" fill="#ff2020"/>
<rect x="97.7" y="399" width="1.6" height="1.6" fill="#ff2020"/>
<rect x="101.7" y="399.3" width="1.6" height="1.6" fill="#ff2020"/>
<rect x="105.7" y="400.1" width="1.6" height="1.6" fill="#ff2020"/>
<rect x="110.1" y="397.2" width="1.6" height="1.6" fill="#ff2020"/>
<rect x="122.5" y="396.7" width="1.6" height="1.6" fill="#ff2020"/>
<rect x="134.5" y="397.6" width="1.6" height="1.6" fill="#ff2020"/>
<rect x="146.9" y="397.2" width="1.6" height="1.6" fill="#ff2020"/>
<rect x="158.9" y="396.8" width="1.6" height="1.6" fill="#ff2020"/>
<rect x="170.8" y="397.2" width="1.6" height="1.6" fill="#ff2020"/>
<rect x="183.7" y="397.4" width="1.6" height="1.6" fill="#ff2020"/>
<circle cx="38" cy="395.9" r="1.3" fill="#2a9a70"/>
<rect x="27.5" y="384.4" width="172.9" height="140.9" fill="none" stroke="#666" stroke-width="1.1" />
<text x="99.9" y="394.2" font-size="5.6" fill="#222" textLength="47.8" lengthAdjust="spacingAndGlyphs"  stroke="#222" stroke-width="0.1">Adsorption of Fe-GCN</text>
<text x="97.8" y="408" font-size="5.6" fill="#222" textLength="56.6" lengthAdjust="spacingAndGlyphs"  stroke="#222" stroke-width="0.1">Adsorption of GO/Fe-GCN</text>
<text x="70.2" y="411.8" font-size="5.6" fill="#222" textLength="10.6" lengthAdjust="spacingAndGlyphs"  stroke="#222" stroke-width="0.1">7.9 %</text>
<text x="173.5" y="405.7" font-size="5.2" fill="#222" textLength="8.8" lengthAdjust="spacingAndGlyphs"  stroke="#222" stroke-width="0.1">1.9%</text>
<text x="67.3" y="435.3" font-size="5.8" fill="#222" textLength="14.6" lengthAdjust="spacingAndGlyphs"  stroke="#222" stroke-width="0.1">31.3 %</text>
<text x="100" y="467.1" font-size="5.6" fill="#222" textLength="77" lengthAdjust="spacingAndGlyphs"  stroke="#222" stroke-width="0.1">Adsorption-photo-Fenton of Fe-GCN</text>
<text x="171.8" y="483.6" font-size="5.6" fill="#222" textLength="14.1" lengthAdjust="spacingAndGlyphs"  stroke="#222" stroke-width="0.1">67.8%</text>
<text x="171.8" y="500.8" font-size="5.6" fill="#222" textLength="15" lengthAdjust="spacingAndGlyphs"  stroke="#222" stroke-width="0.1">83.6 %</text>
<text x="68.3" y="503.9" font-size="5.6" fill="#222" textLength="13.5" lengthAdjust="spacingAndGlyphs"  stroke="#222" stroke-width="0.1">94.1%</text>
<text x="68.3" y="511.6" font-size="5.6" fill="#222" textLength="13.5" lengthAdjust="spacingAndGlyphs"  stroke="#222" stroke-width="0.1">96.5%</text>
<text x="90" y="507.9" font-size="5.6" fill="#222" textLength="87" lengthAdjust="spacingAndGlyphs"  stroke="#222" stroke-width="0.1">Adsorption-photo-Fenton of GO/Fe-GCN</text>
<text x="180.9" y="399" font-size="14.6" fill="#111" textLength="17.6" lengthAdjust="spacingAndGlyphs" stroke="#111" stroke-width="0.2">(e)</text>
<text x="99.2" y="545.2" font-size="7.5" fill="#1a1a1a" textLength="29.8" lengthAdjust="spacingAndGlyphs" stroke="#1a1a1a" stroke-width="0.3">Time/ min</text>
<text x="9.9" y="462.2" font-size="7.8" fill="#222" textLength="15" lengthAdjust="spacingAndGlyphs" transform="rotate(-90 9.9 462.2)" stroke="#222" stroke-width="0.15">C/C<tspan font-size="5.2" dy="1.9">0</tspan><tspan dy="-1.9"></tspan></text>
<line x1="262.8" y1="523" x2="262.8" y2="520.8" stroke="#555" stroke-width="1" />
<line x1="274.53" y1="523" x2="274.53" y2="521.8" stroke="#555" stroke-width="1" />
<line x1="286.25" y1="523" x2="286.25" y2="520.8" stroke="#555" stroke-width="1" />
<line x1="297.98" y1="523" x2="297.98" y2="521.8" stroke="#555" stroke-width="1" />
<line x1="309.7" y1="523" x2="309.7" y2="520.8" stroke="#555" stroke-width="1" />
<line x1="321.43" y1="523" x2="321.43" y2="521.8" stroke="#555" stroke-width="1" />
<line x1="333.15" y1="523" x2="333.15" y2="520.8" stroke="#555" stroke-width="1" />
<line x1="344.88" y1="523" x2="344.88" y2="521.8" stroke="#555" stroke-width="1" />
<line x1="356.6" y1="523" x2="356.6" y2="520.8" stroke="#555" stroke-width="1" />
<line x1="368.33" y1="523" x2="368.33" y2="521.8" stroke="#555" stroke-width="1" />
<line x1="380.05" y1="523" x2="380.05" y2="520.8" stroke="#555" stroke-width="1" />
<line x1="391.78" y1="523" x2="391.78" y2="521.8" stroke="#555" stroke-width="1" />
<line x1="403.5" y1="523" x2="403.5" y2="520.8" stroke="#555" stroke-width="1" />
<line x1="415.23" y1="523" x2="415.23" y2="521.8" stroke="#555" stroke-width="1" />
<text x="262.8" y="531.7" font-size="6" fill="#666" text-anchor="middle" textLength="5.52" lengthAdjust="spacingAndGlyphs" stroke="#666" stroke-width="0.18">10</text>
<text x="286.25" y="531.7" font-size="6" fill="#666" text-anchor="middle" textLength="5.52" lengthAdjust="spacingAndGlyphs" stroke="#666" stroke-width="0.18">20</text>
<text x="309.7" y="531.7" font-size="6" fill="#666" text-anchor="middle" textLength="5.52" lengthAdjust="spacingAndGlyphs" stroke="#666" stroke-width="0.18">30</text>
<text x="333.15" y="531.7" font-size="6" fill="#666" text-anchor="middle" textLength="5.52" lengthAdjust="spacingAndGlyphs" stroke="#666" stroke-width="0.18">40</text>
<text x="356.6" y="531.7" font-size="6" fill="#666" text-anchor="middle" textLength="5.52" lengthAdjust="spacingAndGlyphs" stroke="#666" stroke-width="0.18">50</text>
<text x="380.05" y="531.7" font-size="6" fill="#666" text-anchor="middle" textLength="5.52" lengthAdjust="spacingAndGlyphs" stroke="#666" stroke-width="0.18">60</text>
<text x="403.5" y="531.7" font-size="6" fill="#666" text-anchor="middle" textLength="5.52" lengthAdjust="spacingAndGlyphs" stroke="#666" stroke-width="0.18">70</text>
<text x="426.95" y="531.7" font-size="6" fill="#666" text-anchor="middle" textLength="5.52" lengthAdjust="spacingAndGlyphs" stroke="#666" stroke-width="0.18">80</text>
<rect x="297.5" y="390.3" width="11" height="107.2" fill="none" stroke="#cfcfcf" stroke-width="0.7" />
<polyline points="251.3,447.5 255,447.8 259.5,447.7 261.5,446.7 263,445.4 264.8,446.1 266.4,446.6 268.5,444.3 270.2,442.6 272,443 273.9,443.2 277,442.3 281.4,441.2 285,440.7 289.6,440.2 293,439.2 295,438.5 297,436.7 298.6,433.5 300,427.5 301,419.5 302,407.5 302.8,397.5 303.5,393.5 304.2,398.5 305,411.5 306,427.5 306.6,433.5 307.5,437 308.4,439.5 309.6,441.5 311.1,443 313.5,444.2 315.9,445 319,445.9 322.7,446.6 326,447 329.6,447.3 333,447.3 336.4,447.1 339.5,446.5 341.8,446 343.8,446.5 345.9,447.1 349,447.4 352.7,447.7 359.6,448.4 365,448.9 370.9,448.7 376.8,449.8 387.2,450.5 401.9,451 416.7,451.4 426.8,451.7" fill="none" stroke="#ff3b3b" stroke-width="0.8" stroke-linejoin="round" />
<polyline points="251.3,496.1 255,496.4 259.5,496.3 261.5,495.3 263,494 264.8,494.7 266.4,495.2 268.5,492.9 270.2,491.2 272,491.6 273.9,491.8 277,490.9 281.4,489.8 285,489.3 289.6,488.8 293,487.8 295,487.1 297,485.3 298.6,482.1 300,476.1 301,468.1 302,456.1 302.8,446.1 303.5,442.1 304.2,447.1 305,460.1 306,476.1 306.6,482.1 307.5,485.6 308.4,488.1 309.6,490.1 311.1,491.6 313.5,492.8 315.9,493.6 319,494.5 322.7,495.2 326,495.6 329.6,495.9 333,495.9 336.4,495.7 339.5,495.1 341.8,494.6 343.8,495.1 345.9,495.7 349,496 352.7,496.3 359.6,497 365,497.5 370.9,497.3 376.8,498.4 387.2,499.1 401.9,499.6 416.7,500 426.8,500.3" fill="none" stroke="#2a2a2a" stroke-width="0.7" stroke-linejoin="round" />
<rect x="251.1" y="385.6" width="175.9" height="137.4" fill="none" stroke="#666" stroke-width="1.2" />
<text x="408.4" y="403" font-size="15" fill="#111" textLength="14.6" lengthAdjust="spacingAndGlyphs" stroke="#111" stroke-width="0.2">(f)</text>
<text x="373.1" y="446.7" font-size="7.6" fill="#222" textLength="14.2" lengthAdjust="spacingAndGlyphs"  stroke="#222" stroke-width="0.1">After</text>
<text x="373" y="492.5" font-size="7.6" fill="#222" textLength="18.2" lengthAdjust="spacingAndGlyphs"  stroke="#222" stroke-width="0.1">Before</text>
<text x="324.4" y="541.6" font-size="7.2" fill="#222" textLength="26.4" lengthAdjust="spacingAndGlyphs"  stroke="#222" stroke-width="0.1">2&#952;/degree</text>
<text x="245.5" y="468.2" font-size="7.3" fill="#1a1a1a" textLength="41.2" lengthAdjust="spacingAndGlyphs" transform="rotate(-90 245.5 468.2)" stroke="#1a1a1a" stroke-width="0.2">Intensity (a.u)</text>
</svg></body></html>
